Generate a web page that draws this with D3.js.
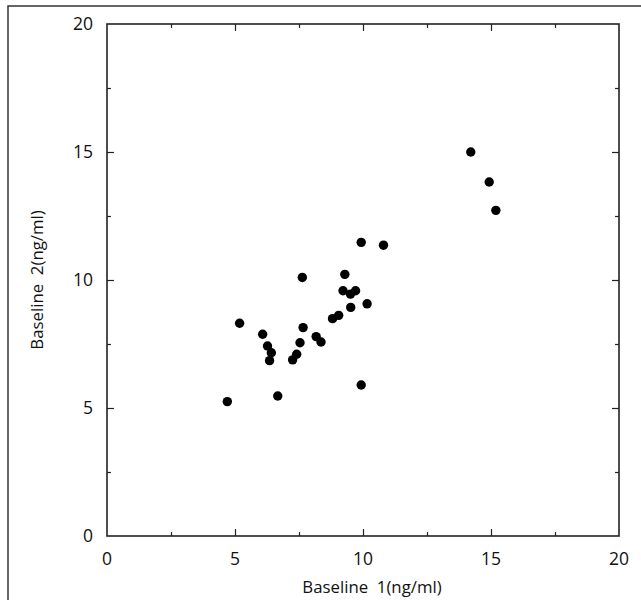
<!DOCTYPE html>
<html>
<head>
<meta charset="utf-8">
<script src="https://cdn.jsdelivr.net/npm/d3@7"></script>
<style>
  body { margin: 0; background: #fff; }
  text { font-family: "Open Sans", "DejaVu Sans", sans-serif; fill: #111; }
</style>
</head>
<body>
<div id="chart"></div>
<script>
// data: baseline 1 vs baseline 2 (ng/ml)
var baseline1 = [4.70, 5.18, 6.08, 6.27, 6.42, 6.35, 6.67, 7.25, 7.41, 7.54, 7.63, 7.66,
                 8.17, 8.36, 8.81, 9.05, 9.22, 9.29, 9.51, 9.52, 9.71, 9.93, 9.93, 10.16,
                 10.80, 14.21, 14.93, 15.19];
var baseline2 = [5.25, 8.31, 7.88, 7.42, 7.16, 6.85, 5.47, 6.88, 7.10, 7.55, 10.10, 8.14,
                 7.79, 7.58, 8.49, 8.62, 9.58, 10.22, 9.45, 8.93, 9.58, 11.47, 5.90, 9.07,
                 11.36, 15.00, 13.83, 12.72];
var majorTicks = [0, 5, 10, 15, 20];
var minorTicks = [2.5, 7.5, 12.5, 17.5];

var W = 641, H = 600;
var svg = d3.select("#chart").append("svg").attr("width", W).attr("height", H);

var x = d3.scaleLinear().domain([0, 20]).range([107, 619]);
var y = d3.scaleLinear().domain([0, 20]).range([536, 24]);

// outer picture border (left and top only)
svg.append("path").attr("d", "M8," + H + "V6H" + W)
  .attr("fill", "none").attr("stroke", "#333").attr("stroke-width", 1.5);

// frame
svg.append("rect")
  .attr("x", x(0)).attr("y", y(20))
  .attr("width", x(20) - x(0)).attr("height", y(0) - y(20))
  .attr("fill", "none").attr("stroke", "#222").attr("stroke-width", 1.6);

function ticks(axis, vals, len) {
  return d3[axis]( axis == "axisBottom" || axis == "axisTop" ? x : y )
    .tickValues(vals).tickSize(-len).tickFormat("");
}
var g = svg.append("g");
// inward ticks on all four sides
[["axisBottom", "translate(0," + y(0) + ")"], ["axisTop", "translate(0," + y(20) + ")"],
 ["axisLeft", "translate(" + x(0) + ",0)"], ["axisRight", "translate(" + x(20) + ",0)"]]
  .forEach(function(a) {
    var maj = g.append("g").attr("transform", a[1]).call(ticks(a[0], majorTicks.slice(1, 4), 7));
    var mn = g.append("g").attr("transform", a[1]).call(ticks(a[0], minorTicks, 4));
    [maj, mn].forEach(function(s) {
      s.select(".domain").remove();
      s.selectAll("line").attr("stroke", "#222").attr("stroke-width", 1.2);
    });
  });

// tick labels
svg.append("g").selectAll("text").data(majorTicks).enter().append("text")
  .attr("x", function(d) { return x(d); }).attr("y", 565)
  .attr("text-anchor", "middle").style("font-size", "17.5px")
  .text(function(d) { return d; });
svg.append("g").selectAll("text").data(majorTicks).enter().append("text")
  .attr("x", 93).attr("y", function(d) { return y(d); }).attr("dy", "0.35em")
  .attr("text-anchor", "end").style("font-size", "17.5px")
  .text(function(d) { return d; });

// axis titles
svg.append("text").attr("x", 372).attr("y", 593).attr("text-anchor", "middle")
  .style("font-size", "16.8px").attr("xml:space", "preserve").text("Baseline  1(ng/ml)");
svg.append("text").attr("transform", "translate(43,280) rotate(-90)").attr("text-anchor", "middle")
  .style("font-size", "16.8px").attr("xml:space", "preserve").text("Baseline  2(ng/ml)");

// points
svg.append("g").selectAll("circle").data(baseline1).enter().append("circle")
  .attr("cx", function(d) { return x(d); })
  .attr("cy", function(d, i) { return y(baseline2[i]); })
  .attr("r", 4.7).attr("fill", "#000");
</script>
</body>
</html>
